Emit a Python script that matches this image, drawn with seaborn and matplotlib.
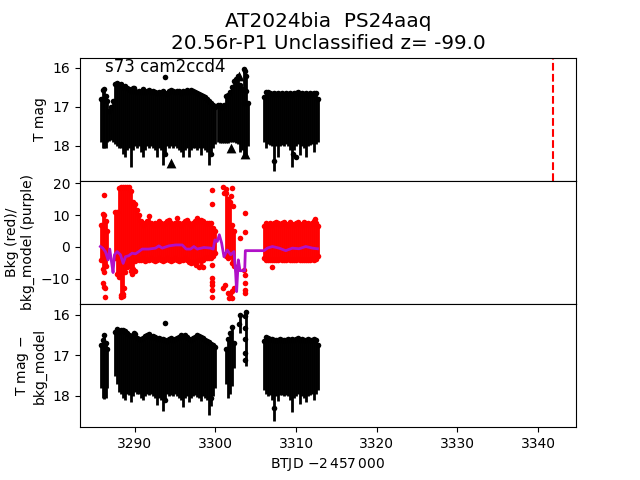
import matplotlib
matplotlib.use('Agg')
import matplotlib.pyplot as plt
import seaborn as sns
import pandas as pd

nan = float('nan')

btjd = [3285.8, 3286.0, 3286.2, 3286.4, 3286.6, 3286.8, 3287.0, 3287.25,
        3287.5, 3287.75, 3288.0, 3288.25, 3288.5, 3288.75, 3289.0, 3289.25, 3289.5, 3289.75,
        3290.0, 3290.25, 3290.5, 3290.75, 3291.0, 3291.25, 3291.5, 3291.75, 3292.0, 3292.25,
        3292.5, 3292.75, 3293.0, 3293.25, 3293.5, 3293.75, 3294.0, 3294.25, 3294.5, 3294.75,
        3295.0, 3295.25, 3295.5, 3295.75, 3296.0, 3296.25, 3296.5, 3296.75, 3297.0, 3297.25,
        3297.5, 3297.75, 3298.0, 3298.25, 3298.5, 3298.75, 3299.0, 3299.25, 3299.5, 3299.75, 3300.0,
        3300.25, 3300.5, 3300.75, 3301.0, 3301.25, 3301.5, 3301.75, 3302.0,
        3302.25, 3302.5, 3302.75, 3303.0, 3303.25, 3303.5, 3303.75, 3304.0,
        3306.0, 3306.25, 3306.5, 3306.75, 3307.0, 3307.25, 3307.5, 3307.75, 3308.0, 3308.25,
        3308.5, 3308.75, 3309.0, 3309.25, 3309.5, 3309.75, 3310.0, 3310.25, 3310.5, 3310.75,
        3311.0, 3311.25, 3311.5, 3311.75, 3312.0, 3312.25, 3312.5, 3312.75]

mag_top = [16.8, 16.58, 16.55, 16.72, 16.85, 17.1, 17.0, 16.85,
           16.42, 16.38, 16.45, 16.42, 16.5, 16.48, 16.52, 16.55, 16.6, 16.52,
           16.6, 16.62, 16.6, 16.62, 16.55, 16.62, 16.6, 16.58, 16.62, 16.6,
           16.62, 16.65, 16.62, 16.65, 16.6, 16.65, 16.68, 16.6, 16.58, 16.6,
           16.62, 16.6, 16.6, 16.65, 16.6, 16.62, 16.58, 16.62, 16.58, 16.6,
           16.62, 16.65, 16.68, 16.7, 16.72, 16.75, 16.8, 16.85, 16.9, 16.95, 17.0,
           16.95, 16.95, 17.0, 16.95, 16.72, 16.7, 16.62, 16.5,
           16.35, 16.3, 16.2, 16.45, 16.55, 16.02, 16.2, 16.9,
           16.75, 16.63, 16.62, 16.66, 16.68, 16.65, 16.68, 16.66, 16.68, 16.66,
           16.7, 16.66, 16.68, 16.65, 16.7, 16.66, 16.65, 16.63, 16.68, 16.66,
           16.68, 16.66, 16.7, 16.66, 16.68, 16.65, 16.66, 16.8]
mag_bot = [17.9, 18.05, 18.06, 18.05, 17.9, 17.88, 17.85, 17.9,
           17.95, 18.0, 18.05, 18.05, 18.2, 18.3, 18.1, 18.05, 18.55, 18.1,
           18.0, 18.05, 18.02, 18.15, 18.3, 18.1, 18.0, 18.05, 18.0, 18.05,
           18.1, 18.3, 18.05, 18.1, 18.5, 18.15, 18.0, 18.05, 18.0, 18.05,
           18.0, 18.05, 18.1, 18.15, 18.3, 18.1, 18.05, 18.3, 18.1, 18.05,
           18.05, 18.1, 18.05, 18.25, 18.05, 18.1, 18.15, 18.5, 18.15, 18.05, 17.95,
           17.9, 17.92, 17.92, 17.92, 17.92, 17.92, 17.9, 17.9,
           17.9, 17.92, 17.95, 18.15, 18.1, 18.28, 18.28, 18.0,
           17.9, 18.05, 17.95, 17.98, 18.0, 18.65, 18.0, 18.3, 18.0, 17.98,
           18.0, 17.95, 18.0, 18.1, 18.55, 18.1, 18.0, 17.95, 18.25, 18.0,
           18.05, 18.3, 18.0, 17.98, 17.95, 18.15, 17.95, 17.9]

bkg_top = [7, 10.5, 10, 8, 5, nan, nan, nan,
           11, 11, 18.5, 18.8, 18.8, 18.8, 18.8, 18.8, 17.5, 14,
           13.5, 11.5, 10, 8, 7, 7.5, 8, 9.8, 7.5, 7,
           7.5, 7, 8, 7.5, 7, 7.5, 8, 8.5, 7.5, 7,
           7.5, 9, 7.5, 7, 7.5, 8, 8.5, 7.5, 7, 7.5,
           8, 9.2, 8, 8.5, 8, 7.5, 7.5, 7.5, 7.5, 6, 5,
           nan, nan, nan, nan, 17, 15, 14, 7,
           5, nan, nan, nan, nan, nan, nan, nan,
           6.5, 7.5, 7, 7.5, 6.8, 7.5, 7.8, 7.4, 7, 7.5,
           7.8, 7.2, 7, 7.8, 7.2, 7, 7.6, 7.8, 7.2, 7,
           7.8, 7.2, 7.5, 7, 7.5, 8, 7.5, 6.5]
bkg_bot = [-4, -7, -8, -6, -3, nan, nan, nan,
           -3.5, -8.5, -9.5, -15.2, -14.8, -8, -6.5, -6, -7.5, -7,
           -4.5, -3.5, -4, -4, -3.5, -4.5, -4, -4, -3.5, -4,
           -4.5, -4, -3.5, -4, -4.5, -4, -3.5, -4, -4.5, -4,
           -3.5, -4, -4.5, -4, -4, -3.5, -4, -4.8, -5, -4.8,
           -5, -4.5, -4, -4.5, -4, -3.5, -3.5, -3.5, -3.5, -3, -2,
           nan, nan, nan, nan, -3, -3.5, -3, -5,
           -6, nan, nan, nan, nan, nan, nan, nan,
           -3.5, -4, -4, -4, -4, -4.2, -4, -4, -3.8, -4,
           -4, -4, -3.8, -4, -4, -4.2, -4, -3.8, -4, -4,
           -4.2, -4, -4, -4, -3.8, -4, -3.8, -3]

res_top = [16.75, 16.62, 16.5, 16.7, 16.85, nan, nan, nan,
           16.42, 16.35, 16.42, 16.38, 16.36, 16.4, 16.45, 16.5, 16.52, 16.5,
           16.48, 16.58, 16.6, 16.6, 16.58, 16.52, 16.5, 16.47, 16.55, 16.52,
           16.55, 16.6, 16.58, 16.6, 16.6, 16.62, 16.65, 16.6, 16.58, 16.62,
           16.6, 16.58, 16.55, 16.5, 16.52, 16.5, 16.55, 16.6, 16.62, 16.58,
           16.55, 16.5, 16.52, 16.55, 16.58, 16.62, 16.65, 16.68, 16.72, 16.75, 16.8,
           nan, nan, nan, nan, 16.85, 16.6, 16.45, 16.3,
           16.7, nan, nan, 16.0, nan, nan, 15.92, nan,
           16.65, 16.55, 16.58, 16.6, 16.6, 16.62, 16.62, 16.62, 16.6, 16.62,
           16.62, 16.62, 16.6, 16.62, 16.6, 16.62, 16.6, 16.58, 16.62, 16.6,
           16.62, 16.62, 16.6, 16.62, 16.62, 16.6, 16.62, 16.75]
res_bot = [17.8, 18.05, 18.08, 18.05, 17.8, nan, nan, nan,
           17.5, 17.7, 17.9, 17.95, 18.05, 18.1, 17.95, 17.98, 18.15, 18.0,
           17.9, 17.95, 17.95, 18.05, 18.1, 18.0, 17.95, 17.98, 17.95, 18.0,
           18.05, 18.22, 18.05, 18.1, 18.38, 18.1, 17.95, 18.0, 17.98, 18.0,
           17.95, 18.0, 18.05, 18.1, 18.28, 18.05, 18.0, 18.15, 18.05, 18.0,
           17.98, 18.02, 18.05, 18.12, 18.0, 18.05, 18.1, 18.46, 18.25, 18.0, 17.8,
           nan, nan, nan, nan, 17.7, 18.05, 17.95, 17.75,
           17.3, nan, nan, 16.45, nan, nan, 17.25, nan,
           17.85, 17.95, 18.0, 17.98, 18.1, 18.62, 18.0, 18.12, 17.98, 17.98,
           18.0, 17.98, 18.0, 18.1, 18.4, 18.05, 18.0, 17.95, 18.2, 18.0,
           18.05, 18.15, 18.0, 17.98, 17.95, 18.1, 17.95, 17.85]

top_extra_t = [3289.9, 3293.68, 3293.7, 3299.45, 3303.7, 3303.75, 3303.5, 3307.2, 3309.6, 3310.0]
top_extra_m = [16.52, 16.25, 18.22, 18.2, 16.08, 16.6, 16.9, 18.4, 18.2, 18.3]

up_t = [3294.5, 3301.96, 3302.9, 3303.6]
up_m = [18.45, 18.07, 16.2, 18.2]

bkg_extra_t = [3286.2, 3286.1, 3286.2, 3286.35, 3286.3,
               3299.6, 3299.6, 3299.6, 3299.6, 3299.6, 3299.6, 3299.6, 3299.6,
               3300.95, 3301.1, 3301.3, 3302.1, 3301.9, 3302.2,
               3300.95, 3301.2, 3301.5, 3301.8, 3302.0, 3302.3, 3301.7, 3302.1,
               3303.6, 3303.7, 3303.0, 3303.55, 3303.6, 3303.7, 3303.7, 3303.6,
               3288.3, 3288.5, 3288.7, 3307.0, 3312.4,
               3297.6, 3297.9, 3298.2, 3298.5, 3289.7, 3290.0]
bkg_extra_v = [16.4, -11.5, -12.5, -13, -15.7,
               18, 13.5, -5.7, -9.9, -11, -12, -13.5, -15.7,
               18.8, 17, 18.3, 18.6, 16, 13,
               -13, -12, -14.5, -15, -14, -13, -16, -16,
               10.6, 4.6, 2.7, -7.2, -9, -11.5, -13.5, -14.6,
               -15.8, -15.5, -13, -6.2, 8.7,
               -5.6, -6.2, -6, -6.4, -8.5, -7.5]

model_t = [3285.73, 3286.02, 3286.35, 3286.68, 3286.89, 3287.10, 3287.30, 3287.47, 3287.80, 3288.22,
           3288.55, 3288.84, 3289.25, 3289.66, 3290.08, 3290.49, 3290.91, 3291.73, 3292.56, 3292.98,
           3293.39, 3294.22, 3295.05, 3295.87, 3296.37, 3296.91, 3297.32, 3297.74, 3298.57, 3299.39,
           3299.72, 3299.93, 3300.22, 3300.47, 3300.76, 3301.05, 3301.46, 3301.88, 3302.29, 3302.50,
           3302.62, 3302.83, 3303.04, 3303.62, 3303.70, 3306.02, 3306.43, 3307.05, 3307.88, 3308.71,
           3309.54, 3310.36, 3311.19, 3312.02, 3312.64]
model_v = [0.1, -0.4, -1.5, -4.1, -0.7, -4.6, -8.1, -2.5, -1.5, -2.5,
           -5.2, -3.1, -2.8, -2.0, -2.2, -1.5, -0.7, -0.7, -0.4, 0.3,
           -0.4, 0.3, 0.6, 0.6, -0.7, -0.7, 0.1, -0.7, -0.2, -0.4,
           -0.7, 2.2, 1.7, 3.8, 1.2, -3.1, -1.0, -2.5, -1.5, -8.3,
           -14.1, -4.1, -7.5, -7.5, -1.2, -1.2, -0.4, 0.1, -0.4, -1.2,
           -0.4, -0.6, 0.1, -0.4, -0.6]

res_extra_t = [3289.87, 3293.68, 3303.7, 3303.7, 3303.7, 3303.7, 3303.7, 3302.9, 3307.2, 3299.5, 3293.7]
res_extra_m = [16.44, 16.21, 16.03, 16.32, 16.6, 16.93, 17.1, 16.23, 18.3, 18.05, 18.1]

sn_line = 3341.8
x_ticks = [3290, 3300, 3310, 3320, 3330, 3340]

lc = pd.DataFrame({'btjd': btjd, 'mag_top': mag_top, 'mag_bot': mag_bot,
                   'bkg_top': bkg_top, 'bkg_bot': bkg_bot,
                   'res_top': res_top, 'res_bot': res_bot})


def draw_band(ax, top, bot, color, both_ends=False):
    d = lc.dropna(subset=[top, bot])
    ax.vlines(d['btjd'], d[top], d[bot], color=color, lw=2.0, zorder=2)
    sns.scatterplot(data=d, x='btjd', y=top, ax=ax, color=color, s=16, linewidth=0, zorder=3)
    if both_ends:
        sns.scatterplot(data=d, x='btjd', y=bot, ax=ax, color=color, s=16, linewidth=0, zorder=3)


fig, axes = plt.subplots(3, 1, sharex=True, figsize=(6.4, 4.8))
fig.subplots_adjust(hspace=0)
ax1, ax2, ax3 = axes

draw_band(ax1, 'mag_top', 'mag_bot', 'black')
sns.scatterplot(x=top_extra_t, y=top_extra_m, ax=ax1, color='black', s=16, linewidth=0, zorder=3)
sns.scatterplot(x=up_t, y=up_m, ax=ax1, color='black', marker='^', s=50, linewidth=0, zorder=4)
ax1.axvline(sn_line, color='red', ls='--', lw=1.5)
ax1.text(3286.35, 16.1, 's73 cam2ccd4', fontsize=12)
ax1.set_ylim(18.9, 15.74)
ax1.set_yticks([16, 17, 18])
ax1.set_ylabel('T mag')
ax1.set_title('AT2024bia  PS24aaq\n20.56r-P1 Unclassified z= -99.0', fontsize=14.4)

draw_band(ax2, 'bkg_top', 'bkg_bot', 'red', both_ends=True)
sns.scatterplot(x=bkg_extra_t, y=bkg_extra_v, ax=ax2, color='red', s=16, linewidth=0, zorder=3)
sns.lineplot(x=model_t, y=model_v, ax=ax2, color='#b010c8', lw=2, sort=False, estimator=None, zorder=5)
ax2.set_ylim(-18, 20.8)
ax2.set_yticks([-10, 0, 10, 20])
ax2.set_ylabel('Bkg (red)/\nbkg_model (purple)')

draw_band(ax3, 'res_top', 'res_bot', 'black')
sns.scatterplot(x=res_extra_t, y=res_extra_m, ax=ax3, color='black', s=16, linewidth=0, zorder=3)
ax3.set_ylim(18.77, 15.73)
ax3.set_yticks([16, 17, 18])
ax3.set_ylabel('T mag $-$\nbkg_model')

ax3.set_xlim(3283.2, 3344.7)
ax3.set_xticks(x_ticks)
ax3.set_xlabel(r'BTJD $-2\,457\,000$')
for ax in (ax1, ax2):
    ax.tick_params(axis='x', length=0)

fig.savefig('out.png', dpi=100)
